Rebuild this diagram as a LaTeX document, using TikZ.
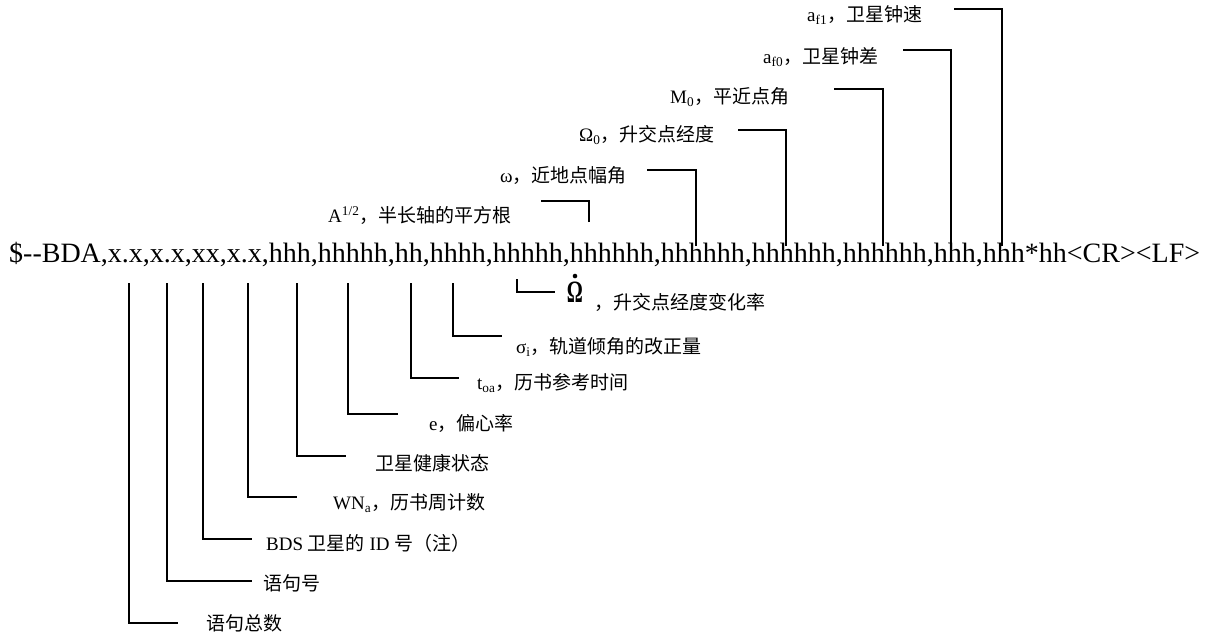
\documentclass[tikz,border=0pt]{standalone}
\usepackage{amsmath}
\usepackage{graphicx}
\usepackage{fontspec}
\setmainfont{Liberation Serif}
\newfontfamily\cjk{Noto Sans CJK SC}
\usepackage{tikz}
\usetikzlibrary{calc}

\begin{document}
\begin{tikzpicture}[x=1pt, y=-1pt,
  leader/.style={line width=1.8pt},
  lab/.style={anchor=west, inner sep=0pt, font=\fontsize{19}{19}\selectfont}]

%\draw [lightgray](0,0) grid (1208, 634);
\useasboundingbox (0,0) rectangle (1208,634);

% Sentence
\node [anchor=base west, inner sep=0pt, font=\fontsize{28}{28}\selectfont] (msg) at (9, 262)
  {\$-{}-BDA,x.x,x.x,xx,x.x,hhh,hhhhh,hh,hhhh,hhhhh,hhhhhh,hhhhhh,hhhhhh,hhhhhh,hhh,hhh*hh<CR><LF>};

%==============================================================================================

% Fields below the sentence
\node [lab] (nTotal) at (206, 623) {\cjk 语句总数};
\node [lab] (nNum) at (263, 583) {\cjk 语句号};
\node [lab] (nId) at (266, 543) {BDS {\cjk 卫星的} ID {\cjk 号（注）}};
\node [lab] (nWeek) at (333, 503) {WN\textsubscript{a}{\cjk ，历书周计数}};
\node [lab] (nHealth) at (375, 463) {\cjk 卫星健康状态};
\node [lab] (nEcc) at (429, 423) {e{\cjk ，偏心率}};
\node [lab] (nToa) at (477, 383) {t\textsubscript{oa}{\cjk ，历书参考时间}};
\node [lab] (nSigma) at (516, 347) {σ\textsubscript{i}{\cjk ，轨道倾角的改正量}};
\node [inner sep=0pt] (nOmegaDot) at (575, 292.5) {\scalebox{1}[1.55]{\fontsize{20}{20}\selectfont\textbf{Ω}}};
\fill ($(nOmegaDot.north)+(0,-6)$) circle (2.3); % rate dot
\node [lab] (nOmegaRate) at (594, 302) {\cjk ，升交点经度变化率};

% Fields above the sentence
\node [lab] (nSqrtA) at (328, 215) {A\textsuperscript{1/2}{\cjk ，半长轴的平方根}};
\node [lab] (nPerigee) at (500, 176) {ω{\cjk ，近地点幅角}};
\node [lab] (nNode) at (579, 135) {Ω\textsubscript{0}{\cjk ，升交点经度}};
\node [lab] (nAnomaly) at (670, 97) {M\textsubscript{0}{\cjk ，平近点角}};
\node [lab] (nBias) at (763, 57) {a\textsubscript{f0}{\cjk ，卫星钟差}};
\node [lab] (nDrift) at (807, 15) {a\textsubscript{f1}{\cjk ，卫星钟速}};

%==============================================================================================

% Leaders below
\coordinate (tTotal) at (129, 283);   \coordinate (eTotal) at (178, 623);
\coordinate (tNum) at (167, 283);     \coordinate (eNum) at (252, 581);
\coordinate (tId) at (203, 283);      \coordinate (eId) at (252, 539);
\coordinate (tWeek) at (248, 283);    \coordinate (eWeek) at (297, 497);
\coordinate (tHealth) at (297, 283);  \coordinate (eHealth) at (346, 456);
\coordinate (tEcc) at (348, 283);     \coordinate (eEcc) at (398, 414);
\coordinate (tToa) at (411, 283);     \coordinate (eToa) at (459, 378);
\coordinate (tSigma) at (453, 283);   \coordinate (eSigma) at (502, 336);
\coordinate (tOmegaDot) at (517, 279); \coordinate (eOmegaDot) at (555, 292);

\draw [leader] (tTotal) |- (eTotal);
\draw [leader] (tNum) |- (eNum);
\draw [leader] (tId) |- (eId);
\draw [leader] (tWeek) |- (eWeek);
\draw [leader] (tHealth) |- (eHealth);
\draw [leader] (tEcc) |- (eEcc);
\draw [leader] (tToa) |- (eToa);
\draw [leader] (tSigma) |- (eSigma);
\draw [leader] (tOmegaDot) |- (eOmegaDot);

% Leaders above
\coordinate (tSqrtA) at (589, 222);   \coordinate (eSqrtA) at (541, 201);
\coordinate (tPerigee) at (696, 246); \coordinate (ePerigee) at (647, 170);
\coordinate (tNode) at (786, 246);    \coordinate (eNode) at (738, 130);
\coordinate (tAnomaly) at (883, 246); \coordinate (eAnomaly) at (834, 89);
\coordinate (tBias) at (951, 246);    \coordinate (eBias) at (903, 50);
\coordinate (tDrift) at (1002, 246);  \coordinate (eDrift) at (954, 9);

\draw [leader] (tSqrtA) |- (eSqrtA);
\draw [leader] (tPerigee) |- (ePerigee);
\draw [leader] (tNode) |- (eNode);
\draw [leader] (tAnomaly) |- (eAnomaly);
\draw [leader] (tBias) |- (eBias);
\draw [leader] (tDrift) |- (eDrift);

\end{tikzpicture}
\end{document}
